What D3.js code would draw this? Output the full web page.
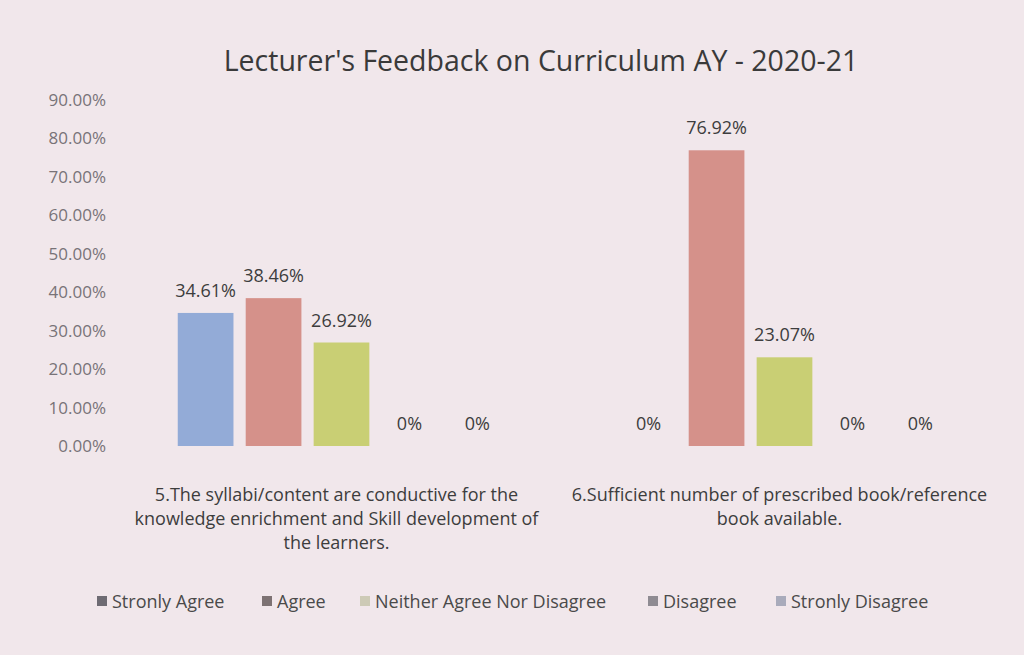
<!DOCTYPE html>
<html>
<head>
<meta charset="utf-8">
<script src="https://cdn.jsdelivr.net/npm/d3@7"></script>
<style>
  body { margin: 0; background: #f1e7eb; }
  svg { display: block; font-family: "Open Sans", sans-serif; }
</style>
</head>
<body>
<div id="chart"></div>
<script>
// chart data
var categories = [
    ["5.The syllabi/content are conductive for the", "knowledge enrichment and Skill development of", "the learners."],
    ["6.Sufficient number of prescribed book/reference", "book available."]
];
var seriesNames = ["Stronly Agree", "Agree", "Neither Agree Nor Disagree", "Disagree", "Stronly Disagree"];
var q5Values = [34.61, 38.46, 26.92, 0, 0];
var q6Values = [0, 76.92, 23.07, 0, 0];
var valueLabels = [
    ["34.61%", "38.46%", "26.92%", "0%", "0%"],
    ["0%", "76.92%", "23.07%", "0%", "0%"]
];
var yTicks = [0, 10, 20, 30, 40, 50, 60, 70, 80, 90];

var barColors = ["#93abd7", "#d5918a", "#c9cf74", "#a28fbf", "#86c3d2"];
var legendColors = ["#6e6b73", "#7d7273", "#cdcab6", "#8f8b92", "#a9abbb"];

var width = 1024, height = 655;
var rows = [q5Values, q6Values];

var svg = d3.select("#chart").append("svg")
    .attr("width", width)
    .attr("height", height);

var y = d3.scaleLinear().domain([0, 90]).range([446, 100]);

var x0 = d3.scaleBand()
    .domain(d3.range(categories.length))
    .range([120, 1006]);

var x1 = d3.scaleBand()
    .domain(d3.range(seriesNames.length))
    .range([0, x0.bandwidth()])
    .paddingInner(0.18)
    .paddingOuter(0.85);

// title
svg.append("text")
    .attr("x", 541)
    .attr("y", 71)
    .attr("text-anchor", "middle")
    .attr("fill", "#3a3a3a")
    .style("font-size", "28.5px")
    .text("Lecturer's Feedback on Curriculum AY - 2020-21");

// y axis labels only, no line
var yAxis = d3.axisLeft(y)
    .tickValues(yTicks)
    .tickSize(0)
    .tickPadding(0)
    .tickFormat(function(d){ return d.toFixed(2) + "%"; });

var yg = svg.append("g")
    .attr("transform", "translate(106,0)")
    .call(yAxis);
yg.select(".domain").remove();
yg.selectAll("text")
    .attr("fill", "#787378")
    .style("font-size", "17px")
    .style("font-family", "'Open Sans', sans-serif");

// bars
var groups = svg.selectAll(".grp")
    .data(rows)
    .enter()
    .append("g")
    .attr("class", "grp")
    .attr("transform", function(d, i){ return "translate(" + x0(i) + ",0)"; });

groups.selectAll("rect")
    .data(function(d){ return d; })
    .enter()
    .append("rect")
    .attr("x", function(d, i){ return x1(i); })
    .attr("y", function(d){ return y(d); })
    .attr("width", x1.bandwidth())
    .attr("height", function(d){ return y(0) - y(d); })
    .attr("fill", function(d, i){ return barColors[i]; });

groups.selectAll(".vlabel")
    .data(function(d, gi){ return d.map(function(v, i){ return {v: v, t: valueLabels[gi][i]}; }); })
    .enter()
    .append("text")
    .attr("class", "vlabel")
    .attr("x", function(d, i){ return x1(i) + x1.bandwidth() / 2; })
    .attr("y", function(d){ return y(d.v) - 16; })
    .attr("text-anchor", "middle")
    .attr("fill", "#3d3d3d")
    .style("font-size", "18px")
    .text(function(d){ return d.t; });

// category labels
groups.append("text")
    .attr("text-anchor", "middle")
    .attr("fill", "#3d3d3d")
    .style("font-size", "18px")
    .selectAll("tspan")
    .data(function(d, i){ return categories[i]; })
    .enter()
    .append("tspan")
    .attr("x", x0.bandwidth() / 2 - 5)
    .attr("y", function(d, i){ return 501 + i * 24; })
    .text(function(d){ return d; });

// legend
var legendX = [97, 262, 360, 648, 776];
var legend = svg.selectAll(".legend")
    .data(seriesNames)
    .enter()
    .append("g")
    .attr("class", "legend")
    .attr("transform", function(d, i){ return "translate(" + legendX[i] + ",608)"; });

legend.append("rect")
    .attr("x", 0)
    .attr("y", -12)
    .attr("width", 10)
    .attr("height", 10)
    .attr("fill", function(d, i){ return legendColors[i]; });

legend.append("text")
    .attr("x", 15)
    .attr("y", 0)
    .attr("fill", "#4a4a4a")
    .style("font-size", "18px")
    .text(function(d){ return d; });
</script>
</body>
</html>
